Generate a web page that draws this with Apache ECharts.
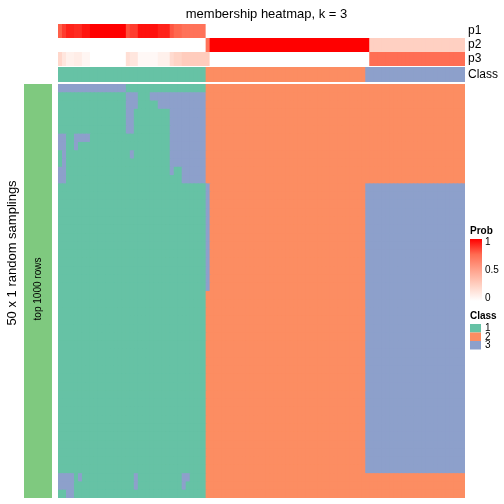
<!DOCTYPE html>
<html><head><meta charset="utf-8">
<script src="https://cdn.jsdelivr.net/npm/echarts@6/dist/echarts.min.js"></script>
<style>html,body{margin:0;padding:0;background:#fff}#c{width:504px;height:504px}</style>
</head><body><div id="c"></div>
<script>
// ---------------- data ----------------
const nCols = 102;
const nRows = 50;
const annoNames = ['p1', 'p2', 'p3'];
const classNames = ['1', '2', '3'];
const classColors = ['#66C2A5', '#FC8D62', '#8DA0CB'];
const sliceColor = '#7FC97F';
const probTicks = ['1', '0.5', '0'];

const p1 = [0.78,0.86,0.92,0.92,0.9,0.9,0.95,0.95,1,1,1,1,1,1,1,1,1,0.82,0.86,0.86,0.96,0.96,0.96,0.96,0.96,0.92,0.92,0.92,0.8,0.76,0.76,0.72,0.72,0.72,0.72,0.72,0.72,
  0,0,0,0,0,0,0,0,0,0,0,0,0,0,0,0,0,0,0,0,0,0,0,0,0,0,0,0,0,0,0,0,0,0,0,0,0,0,0,0,
  0,0,0,0,0,0,0,0,0,0,0,0,0,0,0,0,0,0,0,0,0,0,0,0,0];
const p2 = [0,0,0,0,0,0,0,0,0,0,0,0,0,0,0,0,0,0,0,0,0,0,0,0,0,0,0,0,0,0,0,0,0,0,0,0,0,
  0.72,1,1,1,1,1,1,1,1,1,1,1,1,1,1,1,1,1,1,1,1,1,1,1,1,1,1,1,1,1,1,1,1,1,1,1,1,1,1,1,1,
  0.26,0.26,0.26,0.26,0.26,0.26,0.26,0.26,0.26,0.26,0.26,0.26,0.26,0.26,0.26,0.26,0.26,0.26,0.26,0.26,0.26,0.26,0.26,0.26,0.26];
const p3 = [0.22,0.14,0.08,0.08,0.1,0.1,0.05,0.05,0,0,0,0,0,0,0,0,0,0.18,0.14,0.14,0.04,0.04,0.04,0.04,0.04,0.08,0.08,0.08,0.2,0.24,0.24,0.28,0.28,0.28,0.28,0.28,0.28,
  0.28,0,0,0,0,0,0,0,0,0,0,0,0,0,0,0,0,0,0,0,0,0,0,0,0,0,0,0,0,0,0,0,0,0,0,0,0,0,0,0,0,
  0.74,0.74,0.74,0.74,0.74,0.74,0.74,0.74,0.74,0.74,0.74,0.74,0.74,0.74,0.74,0.74,0.74,0.74,0.74,0.74,0.74,0.74,0.74,0.74,0.74];

// column class annotation, run-length "class:count"
const columnClassRuns = "1:37,2:40,3:25";

// membership per random sampling (rows), run-length "class:count" across 102 columns
const membershipRuns = [
  "3:17,1:20,2:65",
  "1:17,3:3,1:3,3:14,2:65",
  "1:17,3:3,1:5,3:12,2:65",
  "1:17,3:2,1:9,3:9,2:65",
  "1:17,3:2,1:9,3:9,2:65",
  "1:17,3:2,1:9,3:9,2:65",
  "3:2,1:2,3:4,1:20,3:9,2:65",
  "3:2,1:2,3:1,1:23,3:9,2:65",
  "1:1,3:1,1:16,3:1,1:9,3:9,2:65",
  "1:1,3:1,1:26,3:9,2:65",
  "3:2,1:26,3:1,1:2,3:6,2:65",
  "3:2,1:29,3:6,2:65",
  "1:37,3:1,2:39,3:25",
  "1:37,3:1,2:39,3:25",
  "1:37,3:1,2:39,3:25",
  "1:37,3:1,2:39,3:25",
  "1:37,3:1,2:39,3:25",
  "1:37,3:1,2:39,3:25",
  "1:37,3:1,2:39,3:25",
  "1:37,3:1,2:39,3:25",
  "1:37,3:1,2:39,3:25",
  "1:37,3:1,2:39,3:25",
  "1:37,3:1,2:39,3:25",
  "1:37,3:1,2:39,3:25",
  "1:37,3:1,2:39,3:25",
  "1:37,2:40,3:25",
  "1:37,2:40,3:25",
  "1:37,2:40,3:25",
  "1:37,2:40,3:25",
  "1:37,2:40,3:25",
  "1:37,2:40,3:25",
  "1:37,2:40,3:25",
  "1:37,2:40,3:25",
  "1:37,2:40,3:25",
  "1:37,2:40,3:25",
  "1:37,2:40,3:25",
  "1:37,2:40,3:25",
  "1:37,2:40,3:25",
  "1:37,2:40,3:25",
  "1:37,2:40,3:25",
  "1:37,2:40,3:25",
  "1:37,2:40,3:25",
  "1:37,2:40,3:25",
  "1:37,2:40,3:25",
  "1:37,2:40,3:25",
  "1:37,2:40,3:25",
  "1:37,2:40,3:25",
  "3:4,1:1,3:1,1:13,3:1,1:11,3:2,1:4,2:65",
  "3:4,1:15,3:1,1:11,3:1,1:5,2:65",
  "1:2,3:2,1:33,2:65"
];

// ---------------- build ----------------
const FONT = 'Liberation Sans, Arial, sans-serif';
const probStops = ['#FFFFFF', '#FFD2C4', '#FFA28C', '#FF6C52', '#FF0000'];

function expandRuns(s) {
  const out = [];
  s.split(',').forEach(t => { const [v, n] = t.split(':'); for (let i = 0; i < +n; i++) out.push(+v); });
  return out;
}
const colIdx = Array.from({length: nCols}, (_, i) => i);
const rowIdx = Array.from({length: nRows}, (_, i) => i);

const annoData = [];
[p1, p2, p3].forEach((arr, r) => arr.forEach((v, c) => annoData.push([c, r, v])));
const classData = expandRuns(columnClassRuns).map((v, c) => [c, 0, v]);
const mainData = [];
membershipRuns.forEach((s, r) => expandRuns(s).forEach((v, c) => mainData.push([c, r, v])));

// cell renderer: uses the axes' own scales; overlaps cells slightly to avoid seams
function cellRenderer(params, api) {
  const p = api.coord([api.value(0), api.value(1)]);
  const sz = api.size([1, 1]);
  const cs = params.coordSys;
  const x0 = p[0] - sz[0] / 2, y0 = p[1] - sz[1] / 2;
  const x1 = Math.min(p[0] + sz[0] / 2 + 1, cs.x + cs.width);
  const y1 = Math.min(p[1] + sz[1] / 2 + 1, cs.y + cs.height);
  return {type: 'rect', shape: {x: x0, y: y0, width: x1 - x0, height: y1 - y0},
    style: {fill: api.visual('color')}};
}

const L = 58, W = 407;
const hideAxis = {show: false};
function catX(grid) { return {type: 'category', gridIndex: grid, data: colIdx, show: false}; }
function cellSeries(xi, data) {
  return {type: 'custom', xAxisIndex: xi, yAxisIndex: xi, data: data, renderItem: cellRenderer,
    encode: {x: 0, y: 1}, progressive: 0, silent: true};
}

const option = {
  animation: false,
  backgroundColor: '#fff',
  title: {
    text: 'membership heatmap, k = 3', left: 261.5, top: 3, textAlign: 'center',
    textStyle: {fontFamily: FONT, fontSize: 13, fontWeight: 'normal', color: '#000'}
  },
  grid: [
    {left: L, top: 24, width: W, height: 42},
    {left: L, top: 67, width: W, height: 15},
    {left: L, top: 84, width: W, height: 414},
    {left: 24, top: 84, width: 28, height: 414}
  ],
  xAxis: [catX(0), catX(1), catX(2), {type: 'category', gridIndex: 3, data: [0], show: false}],
  yAxis: [
    {type: 'category', gridIndex: 0, data: annoNames, inverse: true, position: 'right',
      axisLine: hideAxis, axisTick: hideAxis, splitLine: hideAxis,
      axisLabel: {interval: 0, margin: 3, fontSize: 12, color: '#000', fontFamily: FONT}},
    {type: 'category', gridIndex: 1, data: ['Class'], position: 'right',
      axisLine: hideAxis, axisTick: hideAxis, splitLine: hideAxis,
      axisLabel: {interval: 0, margin: 3, fontSize: 12, color: '#000', fontFamily: FONT}},
    {type: 'category', gridIndex: 2, data: rowIdx, inverse: true, show: false},
    {type: 'category', gridIndex: 3, data: [0], show: false}
  ],
  visualMap: [
    {type: 'continuous', min: 0, max: 1, dimension: 2, seriesIndex: 0, show: false, inRange: {color: probStops}},
    {type: 'piecewise', dimension: 2, seriesIndex: [1, 2, 3], show: false,
      pieces: [
        {value: 1, color: classColors[0]},
        {value: 2, color: classColors[1]},
        {value: 3, color: classColors[2]},
        {value: 4, color: sliceColor}
      ]}
  ],
  series: [
    cellSeries(0, annoData),
    cellSeries(1, classData),
    cellSeries(2, mainData),
    cellSeries(3, [[0, 0, 4]])
  ],
  graphic: [
    {type: 'text', z: 100, x: 12, y: 253, rotation: Math.PI / 2,
      style: {text: '50 x 1 random samplings', fontFamily: FONT, fontSize: 13, fill: '#000', align: 'center', verticalAlign: 'middle'}},
    {type: 'text', z: 100, x: 38, y: 289, rotation: Math.PI / 2,
      style: {text: 'top 1000 rows', fontFamily: FONT, fontSize: 10, fill: '#000', align: 'center', verticalAlign: 'middle'}},
    // Prob legend
    {type: 'text', x: 470, y: 231, style: {text: 'Prob', fontFamily: FONT, fontSize: 10, fontWeight: 'bold', fill: '#000', verticalAlign: 'middle'}},
    {type: 'rect', shape: {x: 470, y: 239, width: 12, height: 62},
      style: {fill: new echarts.graphic.LinearGradient(0, 0, 0, 1, [
        {offset: 0, color: probStops[4]}, {offset: 0.25, color: probStops[3]}, {offset: 0.5, color: probStops[2]},
        {offset: 0.75, color: probStops[1]}, {offset: 1, color: probStops[0]}])}},
    {type: 'text', x: 485, y: 242, style: {text: probTicks[0], fontFamily: FONT, fontSize: 10, fill: '#000', verticalAlign: 'middle'}},
    {type: 'text', x: 485, y: 270, style: {text: probTicks[1], fontFamily: FONT, fontSize: 10, fill: '#000', verticalAlign: 'middle'}},
    {type: 'text', x: 485, y: 298, style: {text: probTicks[2], fontFamily: FONT, fontSize: 10, fill: '#000', verticalAlign: 'middle'}},
    // Class legend
    {type: 'text', x: 470, y: 316, style: {text: 'Class', fontFamily: FONT, fontSize: 10, fontWeight: 'bold', fill: '#000', verticalAlign: 'middle'}},
    {type: 'rect', shape: {x: 470, y: 324, width: 11, height: 8.5}, style: {fill: classColors[0]}},
    {type: 'rect', shape: {x: 470, y: 332.5, width: 11, height: 8.5}, style: {fill: classColors[1]}},
    {type: 'rect', shape: {x: 470, y: 341, width: 11, height: 8.5}, style: {fill: classColors[2]}},
    {type: 'text', x: 485, y: 328.5, style: {text: classNames[0], fontFamily: FONT, fontSize: 10, fill: '#000', verticalAlign: 'middle'}},
    {type: 'text', x: 485, y: 337, style: {text: classNames[1], fontFamily: FONT, fontSize: 10, fill: '#000', verticalAlign: 'middle'}},
    {type: 'text', x: 485, y: 345.5, style: {text: classNames[2], fontFamily: FONT, fontSize: 10, fill: '#000', verticalAlign: 'middle'}}
  ]
};
const chart = echarts.init(document.getElementById('c'));
chart.setOption(option);
</script>
</body></html>
